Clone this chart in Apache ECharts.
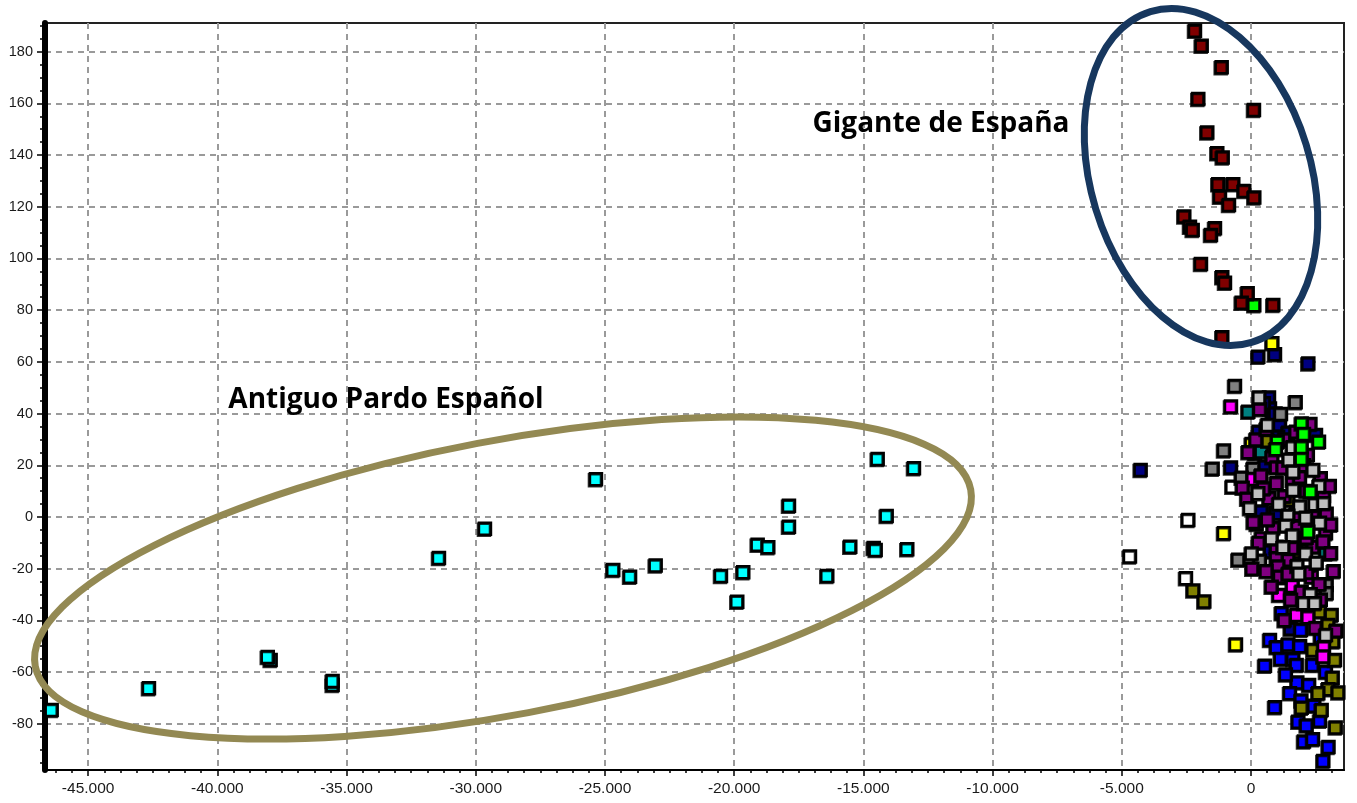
<!DOCTYPE html>
<html>
<head>
<meta charset="utf-8">
<script src="https://cdn.jsdelivr.net/npm/echarts@6/dist/echarts.min.js"></script>
<style>
  html, body { margin: 0; padding: 0; background: #ffffff; }
  #chart { width: 1357px; height: 803px; }
</style>
</head>
<body>
<div id="chart"></div>
<script>
// Axis ticks and ranges
const xTickValues = [-45000, -40000, -35000, -30000, -25000, -20000, -15000, -10000, -5000, 0];
const yTickValues = [-80, -60, -40, -20, 0, 20, 40, 60, 80, 100, 120, 140, 160, 180];
const xRange = [-46670, 3600];
const yRange = [-97.9, 191.1];

// Samples, one array per group: [x, y]
const antiguoPardo = [
  [-46412, -74.7], [-42647, -66.3], [-37938, -55.3], [-38050, -54.2], [-35538, -65.0], [-35540, -63.5],
  [-31424, -15.9], [-29644, -4.6], [-25349, 14.6], [-24679, -20.5], [-24029, -23.1], [-23038, -18.8],
  [-20511, -22.8], [-19880, -32.8], [-19648, -21.4], [-19091, -10.8], [-18680, -11.7], [-17879, 4.3],
  [-17879, -3.8], [-16397, -22.8], [-15507, -11.5], [-14600, -12.0], [-14524, -12.8], [-14447, 22.4],
  [-14098, 0.4], [-13301, -12.5], [-13042, 18.8]
];
const giganteEspana = [
  [-2167, 188.1], [-1908, 182.3], [-1134, 174.0], [-2039, 161.7], [116, 157.4], [-1691, 148.7],
  [-1304, 140.7], [-1095, 139.1], [-1265, 128.7], [-685, 128.7], [-1200, 123.9], [-259, 126.1],
  [128, 123.6], [-851, 120.7], [-2581, 116.2], [-2361, 112.3], [-2256, 111.0], [-1393, 111.7],
  [-1548, 109.1], [-1935, 97.9], [-1111, 92.7], [-1006, 90.6], [-128, 86.5], [-360, 82.9],
  [863, 82.0], [-1111, 69.5]
];
const navyGroup = [
  [284, 62.0], [929, 62.9], [2219, 59.4], [-4270, 18.2], [697, 46.2], [735, 42.0], [839, 38.2],
  [1122, 35.6], [1445, 32.6], [2516, 31.7], [155, 24.6], [-774, 19.1], [542, 19.5], [413, 2.1],
  [968, 1.4], [761, -13.4], [1535, -43.3], [500, 44], [950, 40], [1050, 31], [300, 33]
];
const yellowGroup = [[826, 67.2], [-1045, -6.3], [26, 28.2], [-581, -49.3]];
const whiteGroup = [[-2425, -1.2], [-4683, -15.3], [-722, 11.7], [-2516, -23.7]];
const grayGroup = [
  [-619, 50.7], [1729, 44.4], [1161, 39.8], [-1045, 25.7], [-1484, 18.6], [90, 18.6], [-361, 15.2],
  [219, -2.7], [-490, -16.6], [348, -16.9], [2928, -26.3], [2928, -29.5]
];
const tealGroup = [[-103, 40.7], [413, 25.3], [2903, -14.1]];
const greenGroup = [
  [1961, 36.2], [2051, 32.1], [2632, 29.1], [1032, 29.1], [1961, 27.0], [968, 26.2], [1961, 22.4],
  [2309, 9.8], [2219, -5.7], [128, 81.9]
];
const purpleGroup = [
  [348, 41.7], [826, 23.1], [993, 19.1], [1612, 14.3], [1896, 15.6], [993, 13.0], [-322, 11.3],
  [710, 7.2], [2825, 8.1], [2928, 1.2], [864, -4.4], [1767, -3.7], [2903, -6.3], [993, -11.5],
  [2412, -11.5], [2799, -9.5], [1445, -16.6], [993, -16.0], [1058, -19.2], [1096, -23.3],
  [2180, -21.5], [1961, -28.9], [1122, -23.1],
  [200, 30], [600, 34], [1300, 30], [1750, 33], [2200, 24], [400, 16], [1250, 19], [2050, 20],
  [2700, 15], [-150, 7], [500, 11], [1300, 8], [2150, 10], [3050, 12], [100, -2], [650, -1],
  [1750, 1], [2400, 0], [3100, -3], [300, -10], [1600, -12], [2150, -8], [3100, -14], [600, -21],
  [1450, -22], [2650, -26], [3200, -21], [800, -27], [1550, -32], [2700, -32], [1300, -40],
  [2500, -43], [3300, -44], [-100, 25], [2300, 36], [50, -20]
];
const lightGrayGroup = [
  [323, 46.2], [645, 35.6], [1612, 27.0], [1483, 22.1], [1638, 17.5], [2412, 18.2], [284, 9.2],
  [1638, 10.4], [2645, 12.0], [-39, 3.4], [1084, 5.0], [1896, 4.0], [2477, 4.9], [2825, 5.3],
  [1445, 0.5], [2129, -0.3], [1354, -3.4], [2670, -2.2], [1612, -7.2], [800, -8.3], [1251, -11.7],
  [26, -14.1], [2129, -14.1], [2541, -17.7], [1793, -19.0], [1870, -22.0], [2309, -29.9],
  [2051, -33.4], [2477, -33.4], [2903, -45.7]
];
const magentaGroup = [
  [-774, 42.7], [90, 14.7], [1961, -8.6], [413, -8.3], [2348, -23.1], [1612, -26.7], [1084, -30.2],
  [1767, -37.9], [2219, -38.8], [2825, -50.4], [2799, -54.0]
];
const oliveGroup = [
  [671, 29.5], [1445, 6.6], [1729, -13.4], [-2232, -28.5], [-1806, -32.7], [2670, -36.6],
  [3122, -37.9], [2993, -41.8], [3186, -48.2], [2412, -51.5], [3251, -55.3], [3161, -62.2],
  [2993, -66.7], [2606, -68.2], [3380, -67.9], [1961, -73.8], [2735, -74.7], [3277, -81.5]
];
const blueGroup = [
  [1187, -37.3], [1935, -43.7], [735, -47.6], [993, -50.4], [1445, -49.3], [542, -57.6],
  [1638, -55.1], [1767, -57.3], [2387, -57.3], [1793, -64.0], [1509, -68.2], [929, -73.6],
  [1832, -79.2], [2154, -80.7], [2670, -78.8], [2051, -86.9], [2799, -94.4],
  [1900, -50], [2900, -60], [1350, -61], [2250, -65], [1950, -71], [2450, -73], [2400, -86],
  [3000, -89], [1150, -55], [2700, -47]
];

// Minor tick positions along both axes
const xMinorTicks = [];
for (let v = -46250; v <= xRange[1]; v += 625) xMinorTicks.push(v);
const yMinorTicks = [];
for (let v = -95; v <= yRange[1]; v += 5) yMinorTicks.push(v);

function thousands(v) {
  return String(v).replace(/\B(?=(\d{3})+(?!\d))/g, '.');
}

function squares(name, data, color, z) {
  return {
    type: 'scatter',
    name: name,
    data: data,
    symbol: 'rect',
    symbolSize: 12,
    z: z,
    silent: true,
    itemStyle: {
      color: color,
      borderColor: '#000000',
      borderWidth: 2.5,
      opacity: 1,
      shadowColor: 'rgba(0,0,0,0.8)',
      shadowBlur: 0,
      shadowOffsetX: -1,
      shadowOffsetY: 1
    },
    emphasis: { disabled: true }
  };
}

const fontFamily = 'Liberation Sans, Arial, sans-serif';
const gridDash = { show: true, lineStyle: { color: '#9a9a9a', width: 2, type: [6, 5] } };

const chart = echarts.init(document.getElementById('chart'), null, { renderer: 'canvas' });
chart.setOption({
  animation: false,
  backgroundColor: '#ffffff',
  grid: {
    left: 45, right: 13, top: 23, bottom: 33,
    show: true, borderColor: '#222222', borderWidth: 2,
    outerBoundsMode: 'none', containLabel: false
  },
  xAxis: [
    {
      type: 'value', min: xRange[0], max: xRange[1], position: 'bottom',
      axisLine: { show: true, onZero: false, lineStyle: { color: '#000', width: 2 } },
      axisTick: { show: true, customValues: xTickValues, length: 6, lineStyle: { color: '#000', width: 1.5 } },
      axisLabel: {
        customValues: xTickValues, formatter: thousands, margin: 11,
        color: '#1a1a1a', fontSize: 15.5, fontFamily: fontFamily
      },
      splitLine: gridDash
    },
    {
      type: 'value', min: xRange[0], max: xRange[1], position: 'bottom', offset: 0,
      axisLine: { show: false, onZero: false },
      axisTick: { show: true, customValues: xMinorTicks, length: 3, lineStyle: { color: '#000', width: 1.5 } },
      axisLabel: { show: false },
      splitLine: { show: false }
    }
  ],
  yAxis: [
    {
      type: 'value', min: yRange[0], max: yRange[1], position: 'left',
      axisLine: { show: true, onZero: false, lineStyle: { color: '#000', width: 6 } },
      axisTick: { show: true, customValues: yTickValues, length: 8, lineStyle: { color: '#000', width: 1.5 } },
      axisLabel: {
        customValues: yTickValues, margin: 12,
        color: '#1a1a1a', fontSize: 14.5, fontFamily: fontFamily
      },
      splitLine: gridDash
    },
    {
      type: 'value', min: yRange[0], max: yRange[1], position: 'left', offset: 0,
      axisLine: { show: false, onZero: false },
      axisTick: { show: true, customValues: yMinorTicks, length: 5, lineStyle: { color: '#000', width: 1.5 } },
      axisLabel: { show: false },
      splitLine: { show: false }
    }
  ],
  series: [
    squares('navy', navyGroup, '#000080', 2),
    squares('white', whiteGroup, '#ffffff', 2),
    squares('gray', grayGroup, '#808080', 2),
    squares('yellow', yellowGroup, '#ffff00', 2),
    squares('teal', tealGroup, '#008080', 2),
    squares('blue', blueGroup, '#0000ff', 2),
    squares('olive', oliveGroup, '#808000', 2),
    squares('magenta', magentaGroup, '#ff00ff', 2),
    squares('purple', purpleGroup, '#800080', 2),
    squares('lightgray', lightGrayGroup, '#c0c0c0', 2),
    squares('green', greenGroup, '#00ff00', 2),
    squares('Antiguo Pardo Español', antiguoPardo, '#00ffff', 3),
    squares('Gigante de España', giganteEspana, '#800000', 3)
  ],
  graphic: [
    {
      type: 'ellipse', x: 503, y: 578, rotation: 10.7 * Math.PI / 180, z: 100, silent: true,
      shape: { cx: 0, cy: 0, rx: 476, ry: 137 },
      style: { fill: 'none', stroke: '#938953', lineWidth: 7 }
    },
    {
      type: 'ellipse', x: 1201, y: 177, rotation: 17 * Math.PI / 180, z: 100, silent: true,
      shape: { cx: 0, cy: 0, rx: 110, ry: 173 },
      style: { fill: 'none', stroke: '#17375e', lineWidth: 7 }
    },
    {
      type: 'text', x: 386, y: 400, z: 100, silent: true,
      style: {
        text: 'Antiguo Pardo Español', fill: '#000000',
        font: 'bold 28px "Open Sans", sans-serif',
        align: 'center', verticalAlign: 'middle', textAlign: 'center', textVerticalAlign: 'middle'
      }
    },
    {
      type: 'text', x: 941, y: 124, z: 100, silent: true,
      style: {
        text: 'Gigante de España', fill: '#000000',
        font: 'bold 28px "Open Sans", sans-serif',
        align: 'center', verticalAlign: 'middle', textAlign: 'center', textVerticalAlign: 'middle'
      }
    }
  ]
});
</script>
</body>
</html>
